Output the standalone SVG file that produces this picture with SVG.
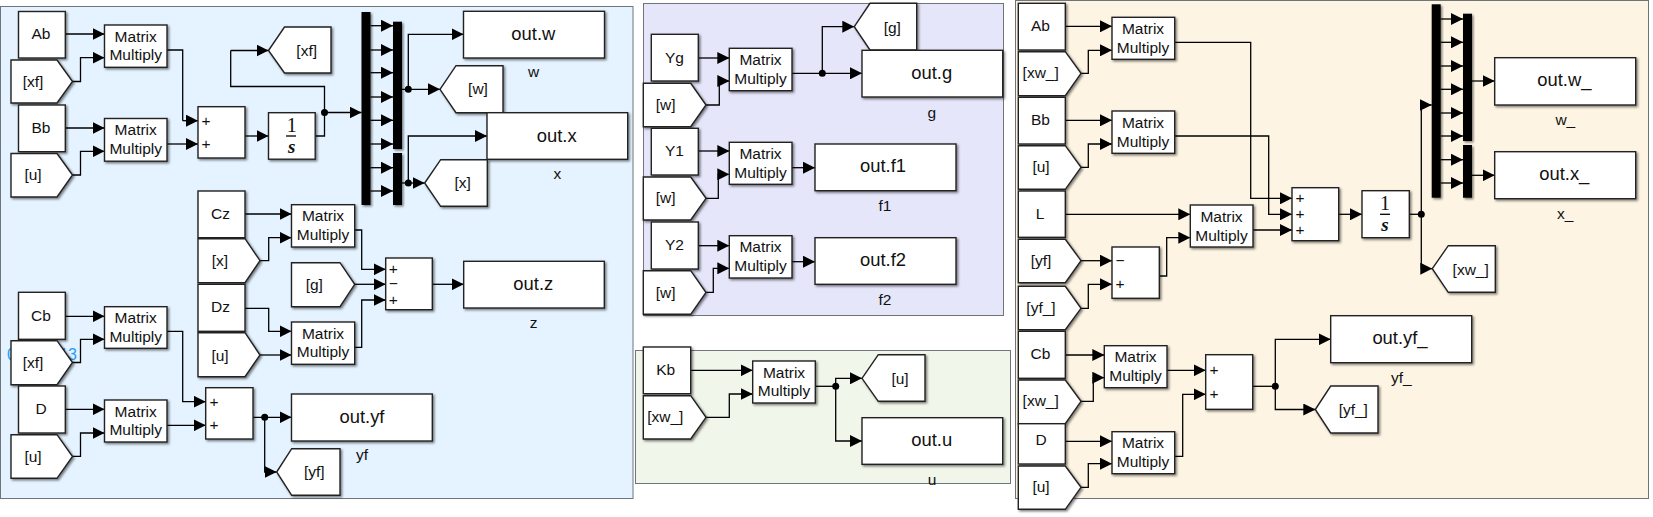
<svg xmlns="http://www.w3.org/2000/svg" width="1653" height="517" viewBox="0 0 1653 517">
<style>
text{font-family:"Liberation Sans",Arial,sans-serif;font-size:15.5px;fill:#111}
.m{text-anchor:middle}
.o{text-anchor:middle;font-size:18.4px}
.b{fill:#fff;stroke:#222;stroke-width:1.4;filter:url(#sh)}
.k{fill:#000;stroke:none;filter:url(#sh)}
.p{stroke:#6e7478;stroke-width:1}
.w{fill:none;stroke:#000;stroke-width:1.3;marker-end:url(#a)}
.n{fill:none;stroke:#000;stroke-width:1.3}
.d{fill:#000}
.one{font-family:"Liberation Serif",serif;font-size:20px}
.s{font-family:"Liberation Serif",serif;font-size:19px;font-style:italic;font-weight:bold}
.c{fill:#1e9bff;font-size:16px}
</style>
<defs>
<filter id="sh" x="-20%" y="-20%" width="150%" height="150%"><feDropShadow dx="1.5" dy="1.5" stdDeviation="1.1" flood-color="#000" flood-opacity="0.5"/></filter>
<marker id="a" markerUnits="userSpaceOnUse" markerWidth="12" markerHeight="12" refX="12" refY="6" orient="auto"><path d="M0,0L12,6L0,12z" fill="#000"/></marker>
</defs>
<g id="panels">
<rect class="p" x="0.5" y="6.5" width="632.5" height="492" fill="#e4f3ff"/>
<rect class="p" x="643.5" y="3.5" width="360" height="312" fill="#e6e6fb"/>
<rect class="p" x="635.5" y="350.5" width="375" height="133" fill="#f0f6ea"/>
<rect class="p" x="1015.5" y="0.5" width="633" height="498" fill="#fdf4e3"/>
</g>
<text class="c" id="hidden-note" x="7" y="360">0</text>
<text class="c" id="hidden-note2" x="77" y="360" text-anchor="end">13</text>
<g id="connectors">
<path class="w" d="M65,34H104.5"/><path class="w" d="M72.5,81.5H80.5V57.7H104.5"/><path class="n" d="M167,50H182.7V120.7"/><path class="w" d="M182.7,120.7H198"/>
<path class="w" d="M65,128H104.5"/><path class="w" d="M72.5,175H80.5V151.3H104.5"/><path class="w" d="M167,144H198"/>
<path class="w" d="M245,136H268.5"/><path class="n" d="M315,136H324.5V86.5H230.7V50.5"/><path class="w" d="M230.7,50.5H268.5"/><path class="w" d="M324.5,112.5H361.5"/>
<path class="w" d="M370.5,25.7H393"/><path class="w" d="M370.5,50H393"/><path class="w" d="M370.5,72.7H393"/><path class="w" d="M370.5,97H393"/><path class="w" d="M370.5,120.3H393"/><path class="w" d="M370.5,144H393"/><path class="w" d="M370.5,167.7H393"/><path class="w" d="M370.5,191H393"/>
<path class="w" d="M402,89.3H440"/><path class="w" d="M408.3,89.3V34.3H463.5"/><path class="w" d="M402,183H424.7"/><path class="w" d="M408.3,183V136H487"/>
<path class="w" d="M245,214H291.5"/><path class="w" d="M260,260.7H268.7V237.7H291.5"/><path class="w" d="M354.7,230H361.7V269.3H385.7"/><path class="w" d="M354.7,284.3H385.7"/><path class="w" d="M354.7,347.3H361.7V300H385.7"/><path class="w" d="M432.3,284.3H463.7"/>
<path class="w" d="M245,308.3H268.7V331.3H291.5"/><path class="w" d="M260,355H291.5"/>
<path class="w" d="M65,316.3H104.5"/><path class="w" d="M72.5,362.5H80.5V339.3H104.5"/><path class="w" d="M167,331.3H182.7V401.7H205.7"/>
<path class="w" d="M65,409.3H104.5"/><path class="w" d="M72.5,456.3H80.5V433H104.5"/><path class="w" d="M167,425.3H205.7"/>
<path class="w" d="M253,417.3H291.5"/><path class="w" d="M264.7,417.3V472H276.7"/>
<path class="w" d="M698.3,58H729.3"/><path class="w" d="M706,105H719.3V81H729.3"/><path class="w" d="M792,73.3H862"/><path class="w" d="M822.3,73.3V26.7H854.3"/>
<path class="w" d="M698.3,151H729.3"/><path class="w" d="M706,198.3H718.3V174.3H729.3"/><path class="w" d="M792,167.7H815"/>
<path class="w" d="M698.3,245.7H729.3"/><path class="w" d="M706,292.3H713.3V268.3H729.3"/><path class="w" d="M792,261.7H815"/>
<path class="w" d="M690.7,370.3H752.7"/><path class="w" d="M706,417.3H729.3V394H752.7"/><path class="n" d="M815.3,386.3H835.7"/><path class="w" d="M835.7,386.3V378.3H862"/><path class="w" d="M835.7,386.3V441H862"/>
<path class="w" d="M1065.3,26.3H1112"/><path class="w" d="M1081,73.3H1088.3V50.3H1112"/><path class="w" d="M1174.7,42.3H1250.7V198.3H1292"/>
<path class="w" d="M1065.3,120.3H1112"/><path class="w" d="M1081,167.3H1088.3V144H1112"/><path class="w" d="M1174.7,136H1268.7V214.3H1292"/>
<path class="w" d="M1065.3,214.3H1190.3"/><path class="w" d="M1253,230H1292"/><path class="w" d="M1159.3,276H1166.7V237.7H1190.3"/>
<path class="w" d="M1081,260.7H1112"/><path class="w" d="M1081,308.3H1088.3V284.3H1112"/>
<path class="w" d="M1338.7,214.3H1362"/><path class="n" d="M1409.3,214.3H1421.3"/><path class="w" d="M1421.3,214.3V105H1431.7"/><path class="w" d="M1421.3,214.3V268.7H1432.3"/>
<path class="w" d="M1440.7,19H1463"/><path class="w" d="M1440.7,42.3H1463"/><path class="w" d="M1440.7,66H1463"/><path class="w" d="M1440.7,89.3H1463"/><path class="w" d="M1440.7,113H1463"/><path class="w" d="M1440.7,136H1463"/><path class="w" d="M1440.7,159.7H1463"/><path class="w" d="M1440.7,183H1463"/>
<path class="w" d="M1472,81H1494.7"/><path class="w" d="M1472,175.3H1494.7"/>
<path class="w" d="M1065.3,355H1104.3"/><path class="w" d="M1081,401.3H1093.3V377.7H1104.3"/><path class="w" d="M1167,370.3H1205.7"/>
<path class="w" d="M1065.3,441.3H1112"/><path class="w" d="M1081,487.3H1088.3V463.7H1112"/><path class="w" d="M1174.7,456.3H1182.7V394.3H1205.7"/>
<path class="n" d="M1252.7,386.3H1275.3"/><path class="w" d="M1275.3,386.3V339.3H1330.7"/><path class="w" d="M1275.3,386.3V409.5H1315.3"/>
<circle class="d" cx="324.5" cy="112.5" r="3.5"/><circle class="d" cx="408.3" cy="89.3" r="3.5"/><circle class="d" cx="408.3" cy="183" r="3.5"/><circle class="d" cx="264.7" cy="417.3" r="3.5"/><circle class="d" cx="822.3" cy="73.3" r="3.5"/><circle class="d" cx="835.7" cy="386.3" r="3.5"/><circle class="d" cx="1421.3" cy="214.3" r="3.5"/><circle class="d" cx="1275.3" cy="386.3" r="3.5"/>
</g>
<g id="blue-panel-nodes">
<g id="ab1"><rect class="b" x="18.5" y="11.5" width="46.8" height="46.5"/><text class="m" x="41" y="39.4">Ab</text></g>
<g id="from-xf1"><path class="b" d="M11,60H57L72.5,81.5L57,103H11z"/><text class="m" x="33" y="86.5">[xf]</text></g>
<g id="bb1"><rect class="b" x="18.5" y="105" width="46.8" height="46.7"/><text class="m" x="41" y="133">Bb</text></g>
<g id="from-u1"><path class="b" d="M11,153.5H57L72.5,175L57,197H11z"/><text class="m" x="33" y="180">[u]</text></g>
<g id="mm1"><rect class="b" x="104.5" y="25" width="62.5" height="42.3"/><text class="m" x="135.7" y="41.7">Matrix</text><text class="m" x="135.7" y="60.3">Multiply</text></g>
<g id="mm2"><rect class="b" x="104.5" y="118.5" width="62.5" height="42.7"/><text class="m" x="135.7" y="135">Matrix</text><text class="m" x="135.7" y="153.7">Multiply</text></g>
<g id="sum1"><rect class="b" x="198" y="106.7" width="47" height="51.3"/><text class="m" x="206" y="126">+</text><text class="m" x="206" y="149">+</text></g>
<g id="int1"><rect class="b" x="268.5" y="112.7" width="46.7" height="46.5"/><text class="m one" x="291.7" y="131.5">1</text><path class="n" d="M286,136H296"/><text class="m s" x="291.7" y="152.7">s</text></g>
<g id="goto-xf"><path class="b" d="M268.5,50.5L284.5,27H331V73H284.5z"/><text class="m" x="306.7" y="55.6">[xf]</text></g>
<g id="demux1"><rect class="k" x="361.5" y="12" width="9" height="193"/></g>
<g id="mux1"><rect class="k" x="393" y="21.7" width="9" height="127.3"/></g>
<g id="mux2"><rect class="k" x="393" y="153" width="9" height="52"/></g>
<g id="out-w"><rect class="b" x="463.5" y="11.3" width="141" height="46.7"/><text class="o" x="533.3" y="40">out.w</text><text class="m" x="533.7" y="77.3">w</text></g>
<g id="goto-w"><path class="b" d="M440,89.3L456,65.7H503V112.7H456z"/><text class="m" x="478" y="94">[w]</text></g>
<g id="out-x"><rect class="b" x="487" y="112.7" width="140.7" height="46.6"/><text class="o" x="556.7" y="141.7">out.x</text><text class="m" x="557.3" y="179.3">x</text></g>
<g id="goto-x"><path class="b" d="M424.7,183L440.7,159.7H487.3V206.3H440.7z"/><text class="m" x="462.7" y="188">[x]</text></g>
<g id="cz"><rect class="b" x="198" y="191" width="47" height="46.7"/><text class="m" x="220.5" y="219">Cz</text></g>
<g id="from-x"><path class="b" d="M198,238.7H245L260,260.7L245,282.7H198z"/><text class="m" x="220" y="266">[x]</text></g>
<g id="dz"><rect class="b" x="198" y="284.3" width="47" height="47"/><text class="m" x="220.5" y="312">Dz</text></g>
<g id="from-u2"><path class="b" d="M198,332.7H245L260,355L245,376.7H198z"/><text class="m" x="220" y="361">[u]</text></g>
<g id="mm3"><rect class="b" x="291.5" y="204.7" width="63.2" height="42.3"/><text class="m" x="323" y="221.3">Matrix</text><text class="m" x="323" y="240">Multiply</text></g>
<g id="mm4"><rect class="b" x="291.5" y="322" width="63.2" height="42.3"/><text class="m" x="323" y="338.7">Matrix</text><text class="m" x="323" y="357.3">Multiply</text></g>
<g id="from-g"><path class="b" d="M291.5,262.7H340L354.7,284.3L340,306.7H291.5z"/><text class="m" x="314.3" y="290">[g]</text></g>
<g id="sum3"><rect class="b" x="385.7" y="258" width="46.6" height="51.7"/><text class="m" x="393.3" y="274.3">+</text><text class="m" x="393.3" y="289.3">−</text><text class="m" x="393.3" y="305">+</text></g>
<g id="out-z"><rect class="b" x="463.7" y="261.3" width="140.6" height="46.7"/><text class="o" x="533.3" y="290">out.z</text><text class="m" x="533.7" y="327.7">z</text></g>
<g id="cb1"><rect class="b" x="18.5" y="292.3" width="46.8" height="47"/><text class="m" x="41" y="320.5">Cb</text></g>
<g id="from-xf2"><path class="b" d="M11,340.7H57L72.5,362.5L57,384.7H11z"/><text class="m" x="33" y="367.5">[xf]</text></g>
<g id="d1"><rect class="b" x="18.5" y="386" width="46.8" height="47"/><text class="m" x="41" y="414">D</text></g>
<g id="from-u3"><path class="b" d="M11,434.7H57L72.5,456.5L57,478.3H11z"/><text class="m" x="33" y="461.5">[u]</text></g>
<g id="mm5"><rect class="b" x="104.5" y="306.7" width="62.5" height="41.6"/><text class="m" x="135.7" y="323">Matrix</text><text class="m" x="135.7" y="341.7">Multiply</text></g>
<g id="mm6"><rect class="b" x="104.5" y="400" width="62.5" height="42"/><text class="m" x="135.7" y="416.5">Matrix</text><text class="m" x="135.7" y="435">Multiply</text></g>
<g id="sum4"><rect class="b" x="205.7" y="387.7" width="47.3" height="51.3"/><text class="m" x="214" y="407.3">+</text><text class="m" x="214" y="430">+</text></g>
<g id="out-yf"><rect class="b" x="291.5" y="394" width="140.8" height="47"/><text class="o" x="362" y="422.7">out.yf</text><text class="m" x="362" y="459.5">yf</text></g>
<g id="goto-yf"><path class="b" d="M276.7,472L291.7,448.7H340V495.3H291.7z"/><text class="m" x="314.3" y="477">[yf]</text></g>
</g>
<g id="lavender-panel-nodes">
<g id="yg"><rect class="b" x="651.3" y="34.3" width="47" height="46.7"/><text class="m" x="674.5" y="62.5">Yg</text></g>
<g id="from-w1"><path class="b" d="M643.3,83.3H690.7L706,105L690.7,126.7H643.3z"/><text class="m" x="665.7" y="110">[w]</text></g>
<g id="y1"><rect class="b" x="651.3" y="128.3" width="47" height="46.7"/><text class="m" x="674.5" y="156">Y1</text></g>
<g id="from-w2"><path class="b" d="M643.3,177H690.7L706,198.3L690.7,220H643.3z"/><text class="m" x="665.7" y="203.3">[w]</text></g>
<g id="y2"><rect class="b" x="651.3" y="222" width="47" height="47"/><text class="m" x="674.5" y="250">Y2</text></g>
<g id="from-w3"><path class="b" d="M643.3,270.7H690.7L706,292.5L690.7,314.3H643.3z"/><text class="m" x="665.7" y="297.5">[w]</text></g>
<g id="mm7"><rect class="b" x="729.3" y="48.3" width="62.7" height="42.4"/><text class="m" x="760.5" y="65">Matrix</text><text class="m" x="760.5" y="84">Multiply</text></g>
<g id="mm8"><rect class="b" x="729.3" y="142.3" width="62.7" height="42"/><text class="m" x="760.5" y="158.5">Matrix</text><text class="m" x="760.5" y="177.5">Multiply</text></g>
<g id="mm9"><rect class="b" x="729.3" y="235.7" width="62.7" height="42.3"/><text class="m" x="760.5" y="252">Matrix</text><text class="m" x="760.5" y="271">Multiply</text></g>
<g id="goto-g"><path class="b" d="M854.3,26.7L870,3.3H916.7V50H870z"/><text class="m" x="892.3" y="33">[g]</text></g>
<g id="out-g"><rect class="b" x="862" y="50.3" width="140.7" height="46.7"/><text class="o" x="931.7" y="79.3">out.g</text><text class="m" x="931.7" y="117.7">g</text></g>
<g id="out-f1"><rect class="b" x="815" y="144" width="141" height="46.7"/><text class="o" x="883" y="172">out.f1</text><text class="m" x="885" y="210.7">f1</text></g>
<g id="out-f2"><rect class="b" x="815" y="237.7" width="141" height="46.6"/><text class="o" x="883" y="265.7">out.f2</text><text class="m" x="885" y="304.7">f2</text></g>
</g>
<g id="green-panel-nodes">
<g id="kb"><rect class="b" x="643.3" y="347" width="47.4" height="46.7"/><text class="m" x="665.7" y="375">Kb</text></g>
<g id="from-xw3"><path class="b" d="M643.3,395.7H690.7L706,417.3L690.7,439H643.3z"/><text class="m" x="665.3" y="422.3">[xw_]</text></g>
<g id="mm10"><rect class="b" x="752.7" y="361" width="62.6" height="42"/><text class="m" x="784" y="377.5">Matrix</text><text class="m" x="784" y="396">Multiply</text></g>
<g id="goto-u"><path class="b" d="M862,378.3L878.3,354.7H925V401.3H878.3z"/><text class="m" x="900" y="384">[u]</text></g>
<g id="out-u"><rect class="b" x="862" y="417.7" width="140.7" height="46.6"/><text class="o" x="931.7" y="446">out.u</text><text class="m" x="932" y="485">u</text></g>
</g>
<g id="cream-panel-nodes">
<g id="ab2"><rect class="b" x="1018.3" y="3.3" width="47" height="46.7"/><text class="m" x="1040.5" y="31.3">Ab</text></g>
<g id="from-xw1"><path class="b" d="M1018.3,51.7H1065.3L1081,73.3L1065.3,95.7H1018.3z"/><text class="m" x="1040.7" y="78.3">[xw_]</text></g>
<g id="bb2"><rect class="b" x="1018.3" y="97.3" width="47" height="46.7"/><text class="m" x="1040.5" y="125">Bb</text></g>
<g id="from-u4"><path class="b" d="M1018.3,145.7H1065.3L1081,167.3L1065.3,189.3H1018.3z"/><text class="m" x="1041" y="172.3">[u]</text></g>
<g id="l"><rect class="b" x="1018.3" y="191" width="47" height="46.3"/><text class="m" x="1040" y="219">L</text></g>
<g id="from-yf"><path class="b" d="M1018.3,239.3H1065.3L1081,260.7L1065.3,282.7H1018.3z"/><text class="m" x="1041" y="265.7">[yf]</text></g>
<g id="from-yf_"><path class="b" d="M1018.3,286.3H1065.3L1081,308.3L1065.3,329.7H1018.3z"/><text class="m" x="1041" y="313.3">[yf_]</text></g>
<g id="cb2"><rect class="b" x="1018.3" y="331.3" width="47" height="47"/><text class="m" x="1040.5" y="359">Cb</text></g>
<g id="from-xw2"><path class="b" d="M1018.3,380H1065.3L1081,401.3L1065.3,423.7H1018.3z"/><text class="m" x="1040.7" y="406.3">[xw_]</text></g>
<g id="d2"><rect class="b" x="1018.3" y="423.7" width="47" height="40.3"/><text class="m" x="1041" y="445">D</text></g>
<g id="from-u5"><path class="b" d="M1018.3,466H1065.3L1081,487.3L1065.3,509.3H1018.3z"/><text class="m" x="1041" y="492.3">[u]</text></g>
<g id="mm11"><rect class="b" x="1112" y="17.3" width="62.7" height="42"/><text class="m" x="1143" y="33.5">Matrix</text><text class="m" x="1143" y="52.5">Multiply</text></g>
<g id="mm12"><rect class="b" x="1112" y="111" width="62.7" height="42.3"/><text class="m" x="1143" y="127.5">Matrix</text><text class="m" x="1143" y="146.5">Multiply</text></g>
<g id="mm13"><rect class="b" x="1190.3" y="205" width="62.7" height="42"/><text class="m" x="1221.5" y="221.5">Matrix</text><text class="m" x="1221.5" y="240.5">Multiply</text></g>
<g id="sum5"><rect class="b" x="1112" y="247" width="47.3" height="51.3"/><text class="m" x="1120" y="266">−</text><text class="m" x="1120" y="289.3">+</text></g>
<g id="sum6"><rect class="b" x="1292" y="187.7" width="46.7" height="53"/><text class="m" x="1300" y="203.3">+</text><text class="m" x="1300" y="219.3">+</text><text class="m" x="1300" y="235">+</text></g>
<g id="int2"><rect class="b" x="1362" y="190.7" width="47.3" height="47"/><text class="m one" x="1385" y="209.5">1</text><path class="n" d="M1380,214.3H1390"/><text class="m s" x="1385" y="230.7">s</text></g>
<g id="demux2"><rect class="k" x="1431.7" y="4.3" width="9" height="193.4"/></g>
<g id="mux3"><rect class="k" x="1463" y="13.7" width="9" height="127.3"/></g>
<g id="mux4"><rect class="k" x="1463" y="145" width="9" height="52.7"/></g>
<g id="out-w_"><rect class="b" x="1494.7" y="57.7" width="141" height="47.3"/><text class="o" x="1564.3" y="86">out.w_</text><text class="m" x="1565.3" y="125">w_</text></g>
<g id="out-x_"><rect class="b" x="1494.7" y="151.7" width="141" height="47"/><text class="o" x="1564.3" y="180.3">out.x_</text><text class="m" x="1565.3" y="219.3">x_</text></g>
<g id="goto-xw"><path class="b" d="M1432.3,268.7L1448.3,245.7H1495.3V292.3H1448.3z"/><text class="m" x="1470.7" y="274.5">[xw_]</text></g>
<g id="mm14"><rect class="b" x="1104.3" y="345.7" width="62.7" height="42"/><text class="m" x="1135.5" y="362">Matrix</text><text class="m" x="1135.5" y="381">Multiply</text></g>
<g id="mm15"><rect class="b" x="1112" y="431.7" width="62.7" height="42"/><text class="m" x="1143" y="448">Matrix</text><text class="m" x="1143" y="467">Multiply</text></g>
<g id="sum7"><rect class="b" x="1205.7" y="354.7" width="47" height="54.6"/><text class="m" x="1214" y="375.3">+</text><text class="m" x="1214" y="399.3">+</text></g>
<g id="out-yf_"><rect class="b" x="1330.7" y="315.7" width="141" height="47"/><text class="o" x="1400" y="344.3">out.yf_</text><text class="m" x="1401.3" y="383.3">yf_</text></g>
<g id="goto-yf_"><path class="b" d="M1315.3,409.5L1330.7,386H1378V433H1330.7z"/><text class="m" x="1353.3" y="414.5">[yf_]</text></g>
</g>
</svg>
